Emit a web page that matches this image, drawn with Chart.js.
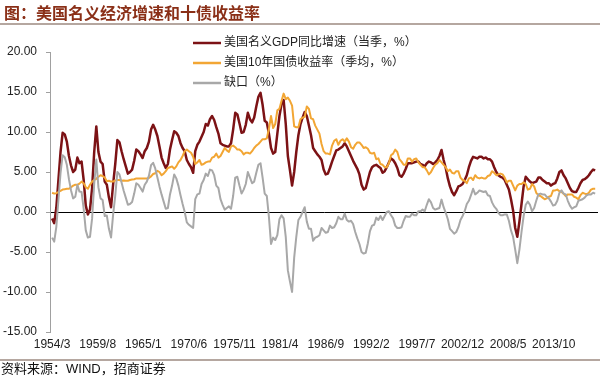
<!DOCTYPE html>
<html>
<head>
<meta charset="utf-8">
<script src="https://cdn.jsdelivr.net/npm/chart.js@4"></script>
<style>
  body { margin: 0; background: #fff; }
  #wrap { width: 600px; height: 377px; }
</style>
</head>
<body>
<div id="wrap"><canvas id="myChart_gdp" width="600" height="377"></canvas></div>
<script>
// quarterly values, 1954Q1 .. 2018Q3
var gdp = [
  -0.8, -1.4, 0.5, 4.0,   7.5, 9.9, 9.7, 8.8,   7.0, 5.8, 5.0, 5.3,   6.8, 6.1, 6.3, 4.0,
  0.8, -0.3, 0.3, 3.0,    7.5, 10.7, 7.5, 6.3,  6.0, 3.8, 3.4, 1.8,   0.6, 3.5, 6.0, 9.0,
  8.7, 7.6, 6.6, 5.7,     4.8, 5.0, 5.3, 6.4,   7.8, 7.6, 7.2, 6.75,  7.6, 8.0, 8.8, 10.3,
  10.9, 10.3, 9.5, 8.2,   6.8, 6.1, 5.5, 6.0,   7.8, 9.0, 10.1, 9.9,  9.5, 8.6, 8.0, 7.6,
  6.5, 6.0, 5.6, 4.9,     7.6, 8.4, 8.8, 9.4,   10.0, 11.0, 10.8, 11.6, 12.0, 11.5, 10.6, 9.8,
  8.6, 8.4, 8.3, 8.2,     8.2, 8.6, 10.3, 12.4, 12.2, 11.1, 9.9, 10.0, 10.9, 12.4, 11.6, 11.2,
  11.8, 13.2, 14.4, 14.9, 13.4, 11.4, 11.2, 9.8, 8.0, 7.3, 7.5, 9.8,  12.0, 13.5, 14.0, 11.0,
  7.0, 5.2, 3.3, 5.0,     7.5, 9.6, 11.0, 11.8, 12.5, 12.0, 10.8, 9.6, 8.0, 7.6, 7.2, 6.9,
  6.5, 5.3, 4.7, 4.8,     5.5, 6.3, 7.0, 7.7,   7.8, 8.0, 8.2, 8.6,   8.2, 7.6, 7.0, 6.4,
  5.9, 5.4, 4.7, 3.4,     2.8, 3.0, 4.0, 5.0,   5.6, 5.8, 5.9, 5.7,   5.5, 4.9, 5.1, 5.6,
  6.2, 6.7, 6.5, 6.1,     5.5, 4.6, 4.4, 4.8,   5.4, 6.1, 6.1, 6.1,   6.2, 6.3, 6.3, 6.0,
  5.9, 5.7, 6.1, 6.3,     6.2, 6.0, 6.2, 6.5,   7.0, 7.75, 6.5, 5.5,  4.2, 3.2, 2.5, 2.1,
  2.6, 3.2, 3.3, 3.5,     4.0, 4.6, 5.6, 6.4,   6.9, 6.8, 6.7, 6.9,   6.9, 6.7, 6.8, 6.6,
  6.6, 6.3, 5.6, 5.0,     4.6, 4.4, 4.3, 4.0,   3.4, 2.8, 1.6, 0.2,   -2.0, -3.1, -1.2, 1.0,
  3.2, 4.4, 4.1, 3.8,     3.6, 3.7, 3.8, 4.3,   4.3, 4.0, 3.8, 3.6,   3.6, 3.3, 3.5, 3.6,
  4.2, 5.0, 5.2, 4.6,     4.2, 3.6, 3.0, 2.6,   2.5, 2.5, 3.0, 3.6,   4.0, 4.1, 4.3, 4.6,
  5.0, 5.3, 5.2
];
var yld = [
  2.4, 2.3, 2.35, 2.5,    2.65, 2.8, 2.85, 2.9, 2.9, 3.1, 3.3, 3.4,   3.4, 3.55, 3.8, 3.6,
  3.1, 2.9, 3.4, 3.8,     4.0, 4.15, 4.4, 4.6,  4.5, 4.3, 3.85, 3.9,  3.8, 3.8, 3.95, 4.0,
  4.0, 3.9, 3.95, 3.9,    3.9, 4.0, 4.05, 4.1,  4.2, 4.2, 4.2, 4.2,   4.2, 4.2, 4.25, 4.45,
  4.75, 4.85, 5.15, 5.0,  4.6, 4.8, 5.1, 5.5,   5.6, 5.7, 5.4, 5.7,   6.2, 6.5, 7.0, 7.6,
  7.8, 7.6, 7.4, 6.9,     6.0, 6.2, 6.5, 5.9,   6.0, 6.2, 6.3, 6.3,   6.8, 6.9, 7.3, 6.8,
  7.0, 7.5, 8.0, 7.7,     7.5, 8.2, 8.3, 8.1,   7.8, 7.8, 7.6, 7.2,   7.4, 7.4, 7.3, 7.6,
  8.0, 8.3, 8.5, 8.8,     9.1, 9.1, 9.2, 10.4,  12.0, 10.5, 11.0, 12.7, 12.9, 13.9, 14.8, 14.1,
  14.3, 13.9, 13.3, 10.7, 10.6, 10.6, 11.6, 11.8, 11.9, 13.2, 12.9, 11.7, 11.6, 10.8, 10.3, 9.8,
  8.5, 7.6, 7.3, 7.3,     7.2, 8.3, 8.9, 9.1,   8.4, 8.9, 9.1, 8.8,   9.2, 8.8, 8.1, 7.9,
  8.4, 8.7, 8.7, 8.4,     8.0, 8.1, 7.9, 7.4,   7.3, 7.4, 6.6, 6.7,   6.0, 5.9, 5.6, 5.6,
  6.1, 7.1, 7.3, 7.8,     7.5, 6.6, 6.3, 5.9,   5.9, 6.7, 6.7, 6.3,   6.6, 6.7, 6.2, 5.9,
  5.6, 5.6, 5.2, 4.7,     5.0, 5.5, 5.9, 6.1,   6.5, 6.2, 5.9, 5.6,   5.1, 5.3, 4.9, 4.8,
  5.1, 5.1, 4.3, 4.0,     3.9, 3.6, 4.2, 4.3,   4.0, 4.6, 4.3, 4.2,   4.3, 4.2, 4.2, 4.5,
  4.6, 5.1, 4.9, 4.6,     4.7, 4.8, 4.7, 4.3,   3.7, 3.9, 3.9, 3.3,   2.7, 3.3, 3.5, 3.5,
  3.7, 3.5, 2.8, 2.9,     3.5, 3.2, 2.4, 2.1,   2.0, 1.8, 1.6, 1.7,   1.9, 2.0, 2.7, 2.7,
  2.8, 2.6, 2.5, 2.3,     2.0, 2.2, 2.2, 2.2,   1.9, 1.8, 1.6, 2.1,   2.4, 2.3, 2.2, 2.4,
  2.8, 2.9, 2.9
];
var gap = [
  -3.2, -3.7, -1.85, 1.5, 4.85, 7.1, 6.85, 5.9, 4.1, 2.7, 1.7, 1.9,   3.4, 2.55, 2.5, 0.4,
  -2.3, -3.2, -3.1, -0.8, 3.5, 6.55, 3.1, 1.7,  1.5, -0.5, -0.45, -2.1, -3.2, -0.3, 2.05, 5.0,
  4.7, 3.7, 2.65, 1.8,    0.9, 1.0, 1.25, 2.3,  3.6, 3.4, 3.0, 2.55,  3.4, 3.8, 4.55, 5.85,
  6.15, 5.45, 4.35, 3.2,  2.2, 1.3, 0.4, 0.5,   2.2, 3.3, 4.7, 4.2,   3.3, 2.1, 1.0, 0.0,
  -1.3, -1.6, -1.8, -2.0, 1.6, 2.2, 2.3, 3.5,   4.0, 4.8, 4.5, 5.3,   5.2, 4.6, 3.3, 3.0,
  1.6, 0.9, 0.3, 0.5,     0.7, 0.4, 2.0, 4.3,   4.4, 3.3, 2.3, 2.8,   3.5, 5.0, 4.3, 3.6,
  3.8, 4.9, 5.9, 6.1,     4.3, 2.3, 2.0, -0.6,  -4.0, -3.2, -3.5, -2.9, -0.9, -0.4, -0.8, -3.1,
  -7.3, -8.7, -10.0, -5.7, -3.1, -1.0, -0.6, 0.0, 0.6, -1.2, -2.1, -2.1, -3.6, -3.2, -3.1, -2.9,
  -2.0, -2.3, -2.6, -2.5, -1.7, -2.0, -1.9, -1.4, -0.6, -0.9, -0.9, -0.2, -1.0, -1.2, -1.1, -1.5,
  -2.5, -3.3, -4.0, -5.0, -5.2, -5.1, -3.9, -2.4, -1.7, -1.6, -0.7, -1.0, -0.5, -1.0, -0.5, 0.0,
  0.1, -0.4, -0.8, -1.7,  -2.0, -2.0, -1.9, -1.1, -0.5, -0.6, -0.6, -0.2, -0.4, -0.4, 0.1, 0.1,
  0.3, 0.1, 0.9, 1.6,     1.2, 0.5, 0.3, 0.4,   0.5, 1.55, 0.6, -0.1, -0.9, -2.1, -2.4, -2.7,
  -2.5, -1.9, -1.0, -0.5, 0.1, 1.0, 1.4, 2.1,   2.9, 2.2, 2.4, 2.7,   2.6, 2.5, 2.6, 2.1,
  2.0, 1.2, 0.7, 0.4,     -0.1, -0.4, -0.4, -0.3, -0.3, -1.1, -2.3, -3.1, -4.7, -6.4, -4.7, -2.5,
  -0.5, 0.9, 1.3, 0.9,    0.1, 0.5, 1.4, 2.2,   2.3, 2.2, 2.2, 1.9,   1.7, 1.3, 0.8, 0.9,
  1.4, 2.4, 2.7, 2.3,     2.2, 1.4, 0.8, 0.4,   0.6, 0.7, 1.4, 1.5,   1.6, 1.8, 2.1, 2.2,
  2.2, 2.4, 2.3
];
var xLabels = ['1954/3', '1959/8', '1965/1', '1970/6', '1975/11', '1981/4',
               '1986/9', '1992/2', '1997/7', '2002/12', '2008/5', '2013/10'];
var seriesNames = ['美国名义GDP同比增速（当季，%）', '美国10年国债收益率（季均，%）', '缺口（%）'];
var seriesColors = ['#7c1215', '#f2a634', '#a8a8a8'];

var titleText = '图：美国名义经济增速和十债收益率';
var sourceText = '资料来源：WIND，招商证券';
var latinFont = 'Arial, "Liberation Sans", "Noto Sans CJK SC", sans-serif';

// quarter i sits at month i*3 counted from 1954/3
function toPoints(arr) {
  return arr.map(function (v, i) { return { x: i * 3, y: v }; });
}

var framePlugin = {
  id: 'frame',
  beforeDraw: function (chart) {
    var c = chart.ctx;
    c.save();
    c.fillStyle = '#fff';
    c.fillRect(0, 0, chart.width, chart.height);
    c.restore();
  },
  afterDraw: function (chart) {
    var c = chart.ctx;
    c.save();
    // title
    c.fillStyle = '#8a2f17';
    c.font = 'bold 16px "Noto Sans CJK SC", sans-serif';
    c.textBaseline = 'middle';
    c.textAlign = 'left';
    c.fillText(titleText, 4, 13);
    c.strokeStyle = '#9c8a80';
    c.lineWidth = 1.5;
    c.beginPath(); c.moveTo(0, 24); c.lineTo(600, 24); c.stroke();
    c.beginPath(); c.moveTo(0, 360); c.lineTo(600, 360); c.stroke();
    // source
    c.fillStyle = '#111';
    c.font = '13px ' + latinFont;
    c.fillText(sourceText, 1, 369);
    // legend
    c.font = '12px ' + latinFont;
    for (var i = 0; i < seriesNames.length; i++) {
      var y = 43 + i * 20;
      c.strokeStyle = seriesColors[i];
      c.lineWidth = 2.5;
      c.beginPath(); c.moveTo(193, y); c.lineTo(221, y); c.stroke();
      c.fillStyle = '#222';
      c.fillText(seriesNames[i], 224, y);
    }
    c.restore();
  }
};

var ctx = document.getElementById('myChart_gdp').getContext('2d');
var myChart_gdp = new Chart(ctx, {
  type: 'line',
  data: {
    datasets: [{
      label: seriesNames[0],
      data: toPoints(gdp),
      borderColor: seriesColors[0],
      borderWidth: 2.5,
      order: 3
    }, {
      label: seriesNames[1],
      data: toPoints(yld),
      borderColor: seriesColors[1],
      borderWidth: 2,
      order: 2
    }, {
      label: seriesNames[2],
      data: toPoints(gap),
      borderColor: seriesColors[2],
      borderWidth: 2,
      order: 1
    }]
  },
  options: {
    responsive: false,
    animation: false,
    devicePixelRatio: 1,
    layout: { padding: { top: 52, right: 2, bottom: 0, left: 0 } },
    elements: {
      point: { radius: 0 },
      line: { tension: 0, borderJoinStyle: 'round' }
    },
    plugins: {
      legend: { display: false },
      tooltip: { enabled: false }
    },
    scales: {
      x: {
        type: 'linear',
        min: -3,
        max: 778,
        border: { display: false },
        grid: { display: false, drawTicks: false },
        afterBuildTicks: function (scale) {
          scale.ticks = xLabels.map(function (l, i) { return { value: i * 65 }; });
        },
        afterFit: function (scale) { scale.height = 45; },
        ticks: {
          autoSkip: false,
          maxRotation: 0,
          padding: 5,
          color: '#222',
          font: { family: latinFont, size: 12 },
          callback: function (v, i) { return xLabels[i]; }
        }
      },
      y: {
        min: -15,
        max: 20,
        border: { display: true, color: '#a0a0a0', width: 1 },
        grid: {
          color: function (c) { return c.tick && c.tick.value === 0 ? '#000' : 'rgba(0,0,0,0)'; },
          lineWidth: 1,
          drawTicks: true,
          tickLength: 4,
          tickColor: '#a0a0a0'
        },
        afterFit: function (scale) { scale.width = 50; },
        ticks: {
          stepSize: 5,
          padding: 9,
          color: '#222',
          font: { family: latinFont, size: 12 },
          callback: function (v) { return v.toFixed(2); }
        }
      }
    }
  },
  plugins: [framePlugin]
});
</script>
</body>
</html>
